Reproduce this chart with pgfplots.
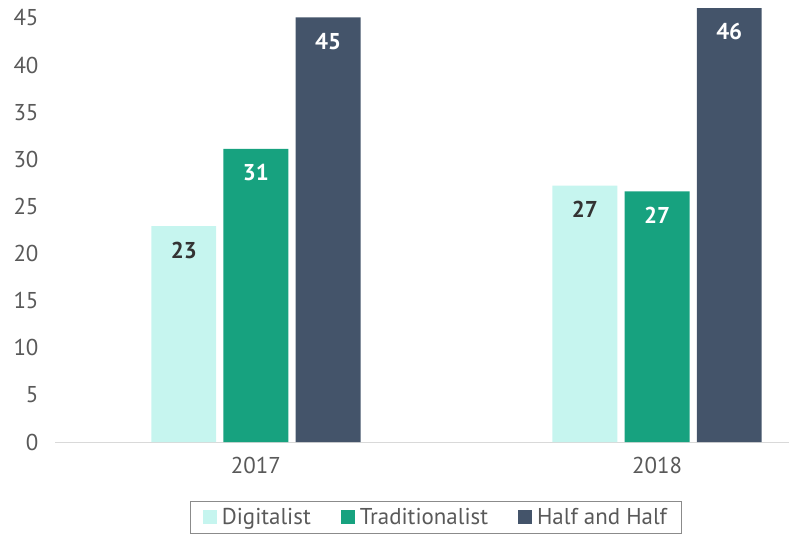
\documentclass[border=0pt]{standalone}
\usepackage{fontspec}
\setmainfont{PT Sans}
\usepackage{pgfplots}
\pgfplotsset{compat=1.18}
\definecolor{cDig}{HTML}{C6F5EF}
\definecolor{cTra}{HTML}{17A27F}
\definecolor{cHal}{HTML}{44546A}
\definecolor{cTxt}{HTML}{595959}
\definecolor{cAx}{HTML}{D9D9D9}
\begin{document}
\begin{tikzpicture}
\useasboundingbox (-55bp,-96bp) rectangle (734bp,442bp);
\begin{axis}[
  at={(0,0)}, anchor=south west,
  scale only axis, width=734bp, height=442bp,
  ybar, bar width=0.162,
  xmin=-0.501, xmax=1.329, ymin=0, ymax=46.9,
  xtick={0,1}, xticklabels={2017,2018},
  ytick={0,5,...,45},
  axis lines=left, axis line style={-},
  y axis line style={draw=none},
  x axis line style={draw=cAx, line width=1bp},
  major tick length=0pt,
  tick label style={font=\fontsize{23}{26}\selectfont, text=cTxt},
  /pgf/number format/assume math mode=true,
  yticklabel style={xshift=-13bp},
  xticklabel style={yshift=-12bp},
  nodes near coords,
  nodes near coords style={font=\bfseries\fontsize{23}{26}\selectfont, anchor=north, yshift=-12bp,
     /pgf/number format/fixed, /pgf/number format/precision=0, /pgf/number format/assume math mode=true},
  legend columns=-1,
  legend style={at={(0.519,-0.17)}, anchor=center, draw=cTxt!70, line width=0.8bp,
     font=\fontsize{23}{26}\selectfont, text=cTxt,
     /tikz/every odd column/.append style={column sep=3bp},
     /tikz/every even column/.append style={column sep=28bp}, inner xsep=12bp, inner ysep=5bp},
  legend image code/.code={\fill[#1] (0bp,-7bp) rectangle (14bp,7bp);},
]
\addplot[fill=cDig, draw=none, bar shift=-0.18, nodes near coords style={text=black!80}] coordinates {(0,22.9) (1,27.2)};
\addplot[fill=cTra, draw=none, bar shift=0, nodes near coords style={text=white}] coordinates {(0,31.1) (1,26.6)};
\addplot[fill=cHal, draw=none, bar shift=0.18, nodes near coords style={text=white}] coordinates {(0,45.05) (1,46.05)};
\legend{Digitalist, Traditionalist, Half and Half}
\end{axis}
\end{tikzpicture}
\end{document}
